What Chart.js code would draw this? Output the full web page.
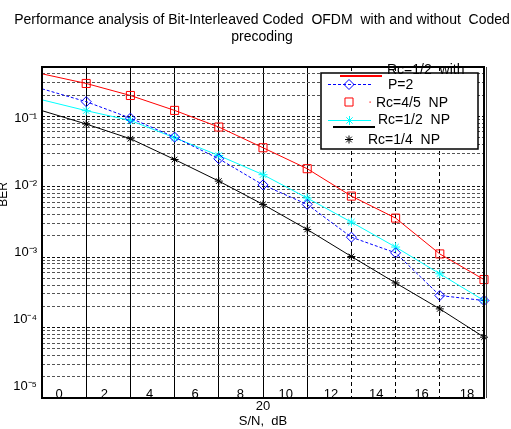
<!DOCTYPE html>
<html><head><meta charset="utf-8">
<script src="https://cdn.jsdelivr.net/npm/chart.js@4/dist/chart.umd.min.js"></script>
<style>html,body{margin:0;padding:0;background:#fff}#wrap{width:511px;height:429px}</style>
</head><body><div id="wrap"><canvas id="c" width="511" height="429"></canvas></div>
<script>
// ---- data ----
const snr = [0, 2, 4, 6, 8, 10, 12, 14, 16, 18, 20];
const berRc45NP = [0.40, 0.292, 0.197, 0.121, 0.0703, 0.0357, 0.0180, 0.00735, 0.00358, 0.00111, 0.00048];
const berRc12P2 = [0.245, 0.161, 0.094, 0.0505, 0.0249, 0.0106, 0.0056, 0.00192, 0.00115, 0.000285, 0.000242];
const berRc12NP = [0.171, 0.120, 0.087, 0.0495, 0.0277, 0.0148, 0.0069, 0.00314, 0.00139, 0.00058, 0.000242];
const berRc14NP = [0.120, 0.0775, 0.0479, 0.0243, 0.0120, 0.0056, 0.00247, 0.00102, 0.00043, 0.000184, 0.000073];
const seriesLabels = ['Rc=4/5  NP', 'Rc=1/2  with  P=2', 'Rc=1/2  NP', 'Rc=1/4  NP'];
const legendLines = ['Rc=1/2  with', 'P=2', 'Rc=4/5  NP', 'Rc=1/2  NP', 'Rc=1/4  NP'];
const xTickLabels = ['0', '2', '4', '6', '8', '10', '12', '14', '16', '18'];
const yTickExponents = [-1, -2, -3, -4, -5];
const titleLines = ['Performance analysis of Bit-Interleaved Coded  OFDM  with and without  Coded', 'precoding'];
const xTitleLines = ['20', 'S/N,  dB'];
const yTitle = 'BER';

const FONT = "'Liberation Sans', Arial, sans-serif";
const SUP = {'-': '\u207B', '0': '\u2070', '1': '\u00B9', '2': '\u00B2', '3': '\u00B3', '4': '\u2074', '5': '\u2075', '6': '\u2076', '7': '\u2077', '8': '\u2078', '9': '\u2079'};
const sup = v => String(v).split('').map(ch => SUP[ch] || ch).join('');
const pts = arr => snr.map((x, i) => ({x, y: arr[i]}));
const isMajor = v => Math.abs(Math.log10(v) - Math.round(Math.log10(v))) < 1e-9;

function drawMarker(ctx, style, x, y, r, color) {
  ctx.save();
  ctx.strokeStyle = color; ctx.lineWidth = 1; ctx.setLineDash([]);
  ctx.beginPath();
  if (style === 'rect') {
    const s = r * Math.SQRT1_2; ctx.rect(x - s, y - s, 2 * s, 2 * s);
  } else if (style === 'rectRot') {
    ctx.moveTo(x - r, y); ctx.lineTo(x, y - r); ctx.lineTo(x + r, y); ctx.lineTo(x, y + r); ctx.closePath();
  } else if (style === 'star') {
    const d = r * Math.SQRT1_2;
    ctx.moveTo(x - r, y); ctx.lineTo(x + r, y); ctx.moveTo(x, y - r); ctx.lineTo(x, y + r);
    ctx.moveTo(x - d, y - d); ctx.lineTo(x + d, y + d); ctx.moveTo(x - d, y + d); ctx.lineTo(x + d, y - d);
  }
  ctx.stroke();
  ctx.restore();
}

const framePlugin = {
  id: 'frame',
  afterDatasetsDraw(chart) {
    const {ctx, chartArea: a} = chart;
    ctx.save();
    ctx.strokeStyle = '#000'; ctx.lineWidth = 2; ctx.setLineDash([]);
    ctx.strokeRect(a.left, a.top, a.right - a.left, a.bottom - a.top);
    ctx.lineWidth = 1; ctx.strokeStyle = '#444';
    ctx.beginPath(); ctx.moveTo(a.right + 2.5, a.top); ctx.lineTo(a.right + 2.5, a.bottom); ctx.stroke();
    // y axis title
    ctx.fillStyle = '#000'; ctx.font = '12px ' + FONT;
    ctx.textAlign = 'center'; ctx.textBaseline = 'middle';
    ctx.translate(4, 194.5); ctx.rotate(-Math.PI / 2);
    ctx.fillText(yTitle, 0, 0);
    ctx.restore();
  }
};

const legendPlugin = {
  id: 'matLegend',
  afterDraw(chart) {
    const ctx = chart.ctx;
    const ds = chart.data.datasets;
    ctx.save();
    ctx.fillStyle = '#fff'; ctx.fillRect(321, 73, 157, 76);
    ctx.strokeStyle = '#000'; ctx.lineWidth = 1.5; ctx.strokeRect(321, 73, 157, 76);
    const line = (x1, x2, y, color, w, dash) => {
      ctx.save(); ctx.strokeStyle = color; ctx.lineWidth = w; ctx.setLineDash(dash || []);
      ctx.beginPath(); ctx.moveTo(x1, y); ctx.lineTo(x2, y); ctx.stroke(); ctx.restore();
    };
    line(340, 382, 76, ds[0].borderColor, 2);
    line(328, 371, 84.5, ds[1].borderColor, 1, [3, 2]);
    drawMarker(ctx, 'rectRot', 349, 84.5, 5, ds[1].borderColor);
    drawMarker(ctx, 'rect', 349, 102, 5.7, ds[0].borderColor);
    ctx.fillStyle = ds[0].borderColor; ctx.fillRect(369.5, 101.5, 1.2, 1.2);
    line(328, 371, 120.5, ds[2].borderColor, 1);
    drawMarker(ctx, 'star', 349.5, 120.5, 4.5, ds[2].borderColor);
    line(333, 375, 127, ds[3].borderColor, 2);
    drawMarker(ctx, 'star', 349, 139.5, 4, ds[3].borderColor);
    ctx.fillStyle = '#000'; ctx.font = '14px ' + FONT;
    ctx.textAlign = 'left'; ctx.textBaseline = 'middle';
    const pos = [[387, 70], [388, 85.5], [376, 103], [378, 120.5], [368, 140]];
    legendLines.forEach((t, i) => ctx.fillText(t, pos[i][0], pos[i][1]));
    ctx.restore();
  }
};

const common = (color, style, radius, dash) => ({
  borderColor: color, backgroundColor: 'transparent', borderWidth: 1,
  borderDash: dash || [], pointStyle: style,
  pointRadius: c => c.dataIndex === 0 ? 0 : radius,
  pointBorderColor: color, pointBackgroundColor: 'transparent', pointBorderWidth: 1,
  tension: 0, clip: false, fill: false, xAxisID: 'x', yAxisID: 'y'
});

new Chart(document.getElementById('c'), {
  type: 'line',
  data: {
    datasets: [
      {label: seriesLabels[0], data: pts(berRc45NP), ...common('#ff0000', 'rect', 5.7)},
      {label: seriesLabels[1], data: pts(berRc12P2), ...common('#0000ff', 'rectRot', 5, [3, 2])},
      {label: seriesLabels[2], data: pts(berRc12NP), ...common('#00ffff', 'star', 4.5)},
      {label: seriesLabels[3], data: pts(berRc14NP), ...common('#000000', 'star', 4)}
    ]
  },
  options: {
    responsive: false, animation: false, devicePixelRatio: 1,
    layout: {padding: {left: 13, right: 0, top: 0, bottom: 0}},
    plugins: {
      legend: {display: false}, tooltip: {enabled: false},
      title: {display: true, text: titleLines, color: '#000', fullSize: true,
        font: {family: FONT, size: 14, weight: 'normal', lineHeight: 1.2},
        padding: {top: 12, bottom: 21.4}}
    },
    scales: {
      x: {type: 'linear', position: 'bottom', weight: 1, min: 0, max: 20,
        ticks: {display: false, stepSize: 2},
        grid: {color: '#000', lineWidth: 1, drawTicks: false},
        border: {display: false, dash: c => (c.tick && c.tick.value >= 13) ? [4, 3] : []},
        title: {display: true, text: xTitleLines, color: '#000', padding: {top: 0, bottom: 0},
          font: {family: FONT, size: 13, lineHeight: 1.15}},
        afterFit: s => { s.height = 31; }
      },
      xLab: {type: 'linear', position: 'bottom', weight: 0, min: -0.753, max: 18.753,
        grid: {display: false, drawTicks: false}, border: {display: false},
        afterBuildTicks: s => { s.ticks = xTickLabels.map(t => ({value: Number(t)})); },
        ticks: {autoSkip: false, maxRotation: 0, mirror: true, padding: -4.5, color: '#000',
          font: {family: FONT, size: 13},
          callback: v => xTickLabels.find(t => Number(t) === v) ?? ''},
        afterFit: s => { s.height = 0; }
      },
      y: {type: 'logarithmic', position: 'left', weight: 0, min: 1e-5, max: 0.5,
        ticks: {display: false, autoSkip: false},
        afterBuildTicks: s => {
          const t = [];
          for (let e = -5; e <= -1; e++) for (let m = 1; m <= 9; m++) {
            const v = m * Math.pow(10, e);
            if (v <= 0.5 + 1e-12) t.push({value: v});
          }
          s.ticks = t;
        },
        grid: {drawTicks: false, lineWidth: 1, color: c => (c.tick && isMajor(c.tick.value)) ? '#111' : '#555'},
        border: {display: false, dash: [3, 2]},
        afterFit: s => { s.width = 0; }
      },
      yLab: {type: 'linear', position: 'left', weight: 1, min: -5.176, max: -0.229,
        grid: {display: false, drawTicks: false}, border: {display: false},
        afterBuildTicks: s => { s.ticks = yTickExponents.map(e => ({value: e})); },
        ticks: {autoSkip: false, padding: 5, color: '#000', font: {family: FONT, size: 13},
          callback: v => '10' + sup(v)},
        afterFit: s => { s.width = 29; }
      },
      yR: {type: 'linear', position: 'right', display: true,
        grid: {display: false, drawTicks: false}, border: {display: false},
        ticks: {display: false}, afterFit: s => { s.width = 27; }
      }
    }
  },
  plugins: [framePlugin, legendPlugin]
});
</script>
</body></html>
